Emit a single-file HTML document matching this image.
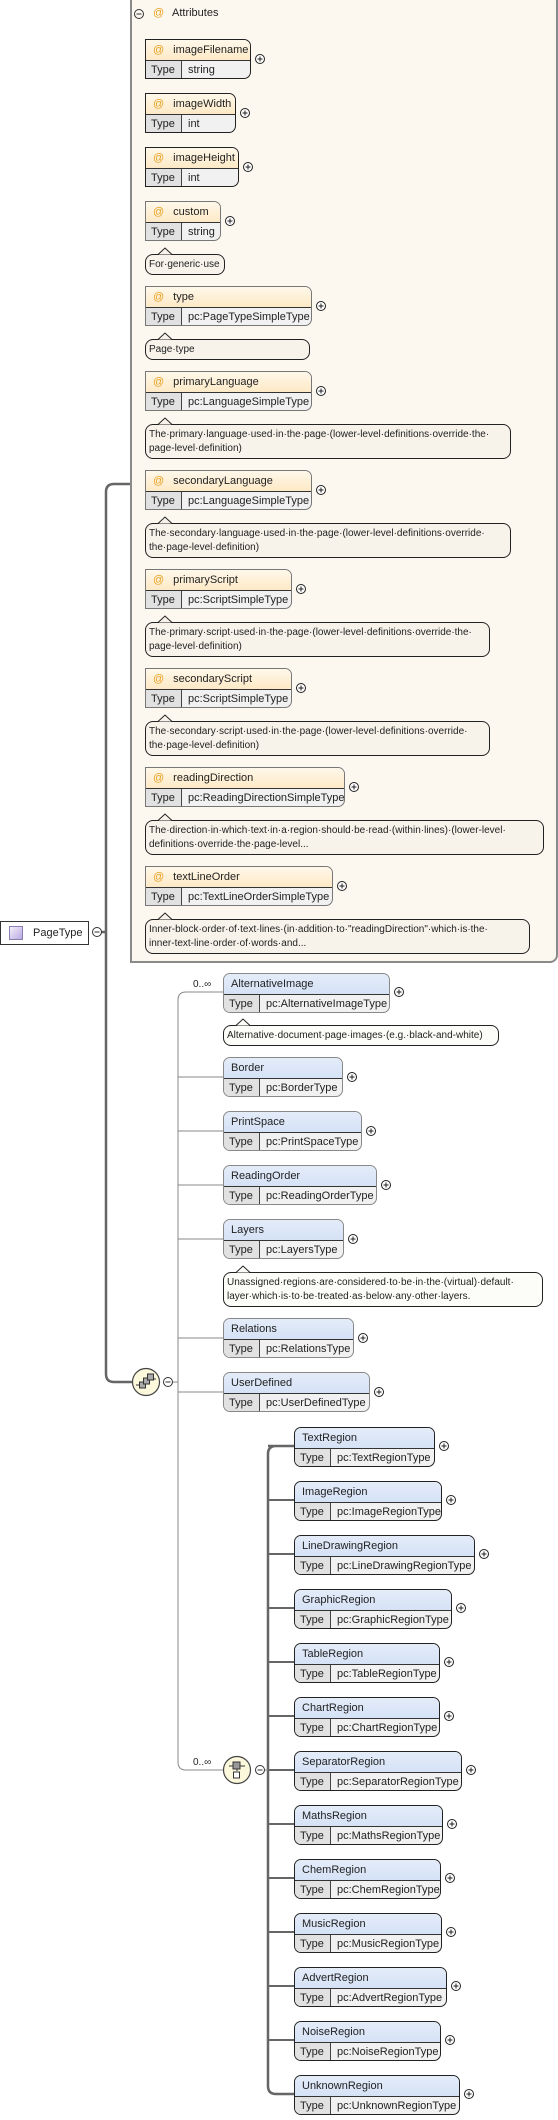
<!DOCTYPE html>
<html><head><meta charset="utf-8"><style>
*{margin:0;padding:0}
body{width:558px;height:2120px;position:relative;background:#fff;font-family:"Liberation Sans",Tahoma,sans-serif;font-size:11px;color:#222;overflow:hidden}
.panel{position:absolute;left:130px;top:-4px;width:424px;height:963px;border:2px solid #8a8a8a;border-radius:0 0 8px 0;background:#fdf8ef}
.b{position:absolute;height:40px;box-sizing:border-box;border:1px solid #777;border-radius:0 7px 7px 0;overflow:hidden;background:#f1f1f1}
.e{border-radius:7px;border-color:#888}
.k{border-color:#222}
.h{height:21px;box-sizing:border-box;border-bottom:1px solid #333;background:linear-gradient(#fff8ea,#fde9c6);line-height:20px;padding-left:7px;white-space:nowrap}
.e .h{background:linear-gradient(#e4ecf9,#d5e2f6)}
.h i{font-style:normal;color:#e8a020;margin-right:9px}
.r{height:18px;line-height:18px;white-space:nowrap}
.t{display:inline-block;width:36px;background:#e1e1e1;border-right:1px solid #444;padding-left:5px;box-sizing:border-box;margin-right:6px;height:18px}
.c{position:absolute;box-sizing:border-box;border:1px solid #222;border-radius:8px;background:#f7f3ea;font-size:10px;line-height:14px;padding:3px 3px 2px 3px;white-space:nowrap}
.w{background:#fcfcf8}
svg{position:absolute;left:0;top:0}
</style></head><body>
<svg width="558" height="2120" style="z-index:0">
<g fill="none" stroke="#666" stroke-width="2.5">
<path d="M130 484 H114 Q106 484 106 492 V1374 Q106 1382 114 1382 H132"/>
<path d="M100 932 H106"/>
<path d="M268 1774 V2086 Q268 2094 276 2094 H294 M276 1446 Q268 1446 268 1454 V1774 M268 1446 H294"/>
</g>
<g fill="none" stroke="#888" stroke-width="1">
<path d="M223 992 H186 Q178 992 178 1000 V1762 Q178 1770 186 1770 H223"/>
<path d="M172 1382 H178"/>
</g>
<g stroke="#666" stroke-width="2">
<path d="M268 1500H294M268 1554H294M268 1608H294M268 1662H294M268 1716H294M268 1770H294M268 1824H294M268 1878H294M268 1932H294M268 1986H294M268 2040H294"/>
</g>
<g stroke="#888" stroke-width="1">
<path d="M178 1077H223M178 1131H223M178 1185H223M178 1239H223M178 1338H223M178 1392H223M264 1770H268"/>
</g>
</svg>

<div class="panel"></div>

<!-- Attributes header -->
<svg width="558" height="40" style="z-index:1">
<circle cx="139" cy="14" r="4.5" fill="none" stroke="#333"/><path d="M136.5 14H141.5" stroke="#333"/>
<path d="M135 28.5H453" stroke="url(#g)" stroke-width="2"/>
<defs><linearGradient id="g"><stop offset="0" stop-color="#999"/><stop offset="1" stop-color="#fdf8ef"/></linearGradient></defs>
</svg>
<div style="position:absolute;left:153px;top:7px;color:#e8a020;font-size:11px">@</div>
<div style="position:absolute;left:172px;top:7px;font-size:11px">Attributes</div>

<!-- attribute boxes -->
<div class="b" style="left:145px;top:39px;width:106px;border-color:#222"><div class="h"><i>@</i>imageFilename</div><div class="r"><span class="t">Type</span>string</div></div>
<div class="b" style="left:145px;top:93px;width:91px;border-color:#222"><div class="h"><i>@</i>imageWidth</div><div class="r"><span class="t">Type</span>int</div></div>
<div class="b" style="left:145px;top:147px;width:94px;border-color:#222"><div class="h"><i>@</i>imageHeight</div><div class="r"><span class="t">Type</span>int</div></div>
<div class="b" style="left:145px;top:201px;width:76px"><div class="h"><i>@</i>custom</div><div class="r"><span class="t">Type</span>string</div></div>
<div class="c" style="left:145px;top:254px;width:80px;height:21px">For·generic·use</div>
<div class="b" style="left:145px;top:286px;width:167px"><div class="h"><i>@</i>type</div><div class="r"><span class="t">Type</span>pc:PageTypeSimpleType</div></div>
<div class="c" style="left:145px;top:339px;width:165px;height:21px">Page·type</div>
<div class="b" style="left:145px;top:371px;width:167px"><div class="h"><i>@</i>primaryLanguage</div><div class="r"><span class="t">Type</span>pc:LanguageSimpleType</div></div>
<div class="c" style="left:145px;top:424px;width:366px;height:35px">The·primary·language·used·in·the·page·(lower-level·definitions·override·the·<br>page-level·definition)</div>
<div class="b" style="left:145px;top:470px;width:167px"><div class="h"><i>@</i>secondaryLanguage</div><div class="r"><span class="t">Type</span>pc:LanguageSimpleType</div></div>
<div class="c" style="left:145px;top:523px;width:366px;height:35px">The·secondary·language·used·in·the·page·(lower-level·definitions·override·<br>the·page-level·definition)</div>
<div class="b" style="left:145px;top:569px;width:147px"><div class="h"><i>@</i>primaryScript</div><div class="r"><span class="t">Type</span>pc:ScriptSimpleType</div></div>
<div class="c" style="left:145px;top:622px;width:345px;height:35px">The·primary·script·used·in·the·page·(lower-level·definitions·override·the·<br>page-level·definition)</div>
<div class="b" style="left:145px;top:668px;width:147px"><div class="h"><i>@</i>secondaryScript</div><div class="r"><span class="t">Type</span>pc:ScriptSimpleType</div></div>
<div class="c" style="left:145px;top:721px;width:345px;height:35px">The·secondary·script·used·in·the·page·(lower-level·definitions·override·<br>the·page-level·definition)</div>
<div class="b" style="left:145px;top:767px;width:200px"><div class="h"><i>@</i>readingDirection</div><div class="r"><span class="t">Type</span>pc:ReadingDirectionSimpleType</div></div>
<div class="c" style="left:145px;top:820px;width:399px;height:35px">The·direction·in·which·text·in·a·region·should·be·read·(within·lines)·(lower-level·<br>definitions·override·the·page-level...</div>
<div class="b" style="left:145px;top:866px;width:188px"><div class="h"><i>@</i>textLineOrder</div><div class="r"><span class="t">Type</span>pc:TextLineOrderSimpleType</div></div>
<div class="c" style="left:145px;top:919px;width:385px;height:35px">Inner-block·order·of·text·lines·(in·addition·to·"readingDirection"·which·is·the·<br>inner-text-line·order·of·words·and...</div>

<!-- PageType -->
<div style="position:absolute;left:0;top:921px;width:89px;height:24px;box-sizing:border-box;border:1px solid #333;background:#fff;line-height:22px;padding-left:32px;font-size:11px">PageType</div>
<div style="position:absolute;left:9px;top:926px;width:12px;height:12px;border:1px solid #8a7fb0;background:linear-gradient(135deg,#f4f0fc,#b9a8e0)"></div>

<!-- sequence children -->
<div class="b e" style="left:223px;top:973px;width:167px"><div class="h">AlternativeImage</div><div class="r"><span class="t">Type</span>pc:AlternativeImageType</div></div>
<div class="c w" style="left:223px;top:1025px;width:276px;height:21px">Alternative·document·page·images·(e.g.·black-and-white)</div>
<div class="b e" style="left:223px;top:1057px;width:120px"><div class="h">Border</div><div class="r"><span class="t">Type</span>pc:BorderType</div></div>
<div class="b e" style="left:223px;top:1111px;width:139px"><div class="h">PrintSpace</div><div class="r"><span class="t">Type</span>pc:PrintSpaceType</div></div>
<div class="b e" style="left:223px;top:1165px;width:154px"><div class="h">ReadingOrder</div><div class="r"><span class="t">Type</span>pc:ReadingOrderType</div></div>
<div class="b e" style="left:223px;top:1219px;width:121px"><div class="h">Layers</div><div class="r"><span class="t">Type</span>pc:LayersType</div></div>
<div class="c w" style="left:223px;top:1272px;width:320px;height:35px">Unassigned·regions·are·considered·to·be·in·the·(virtual)·default·<br>layer·which·is·to·be·treated·as·below·any·other·layers.</div>
<div class="b e" style="left:223px;top:1318px;width:131px"><div class="h">Relations</div><div class="r"><span class="t">Type</span>pc:RelationsType</div></div>
<div class="b e" style="left:223px;top:1372px;width:147px"><div class="h">UserDefined</div><div class="r"><span class="t">Type</span>pc:UserDefinedType</div></div>

<div style="position:absolute;left:193px;top:979px;font-size:10px">0..∞</div>
<div style="position:absolute;left:193px;top:1757px;font-size:10px">0..∞</div>

<!-- regions -->
<div class="b e k" style="left:294px;top:1427px;width:141px"><div class="h">TextRegion</div><div class="r"><span class="t">Type</span>pc:TextRegionType</div></div>
<div class="b e k" style="left:294px;top:1481px;width:148px"><div class="h">ImageRegion</div><div class="r"><span class="t">Type</span>pc:ImageRegionType</div></div>
<div class="b e k" style="left:294px;top:1535px;width:181px"><div class="h">LineDrawingRegion</div><div class="r"><span class="t">Type</span>pc:LineDrawingRegionType</div></div>
<div class="b e k" style="left:294px;top:1589px;width:158px"><div class="h">GraphicRegion</div><div class="r"><span class="t">Type</span>pc:GraphicRegionType</div></div>
<div class="b e k" style="left:294px;top:1643px;width:146px"><div class="h">TableRegion</div><div class="r"><span class="t">Type</span>pc:TableRegionType</div></div>
<div class="b e k" style="left:294px;top:1697px;width:146px"><div class="h">ChartRegion</div><div class="r"><span class="t">Type</span>pc:ChartRegionType</div></div>
<div class="b e k" style="left:294px;top:1751px;width:168px"><div class="h">SeparatorRegion</div><div class="r"><span class="t">Type</span>pc:SeparatorRegionType</div></div>
<div class="b e k" style="left:294px;top:1805px;width:149px"><div class="h">MathsRegion</div><div class="r"><span class="t">Type</span>pc:MathsRegionType</div></div>
<div class="b e k" style="left:294px;top:1859px;width:147px"><div class="h">ChemRegion</div><div class="r"><span class="t">Type</span>pc:ChemRegionType</div></div>
<div class="b e k" style="left:294px;top:1913px;width:148px"><div class="h">MusicRegion</div><div class="r"><span class="t">Type</span>pc:MusicRegionType</div></div>
<div class="b e k" style="left:294px;top:1967px;width:153px"><div class="h">AdvertRegion</div><div class="r"><span class="t">Type</span>pc:AdvertRegionType</div></div>
<div class="b e k" style="left:294px;top:2021px;width:147px"><div class="h">NoiseRegion</div><div class="r"><span class="t">Type</span>pc:NoiseRegionType</div></div>
<div class="b e k" style="left:294px;top:2075px;width:166px"><div class="h">UnknownRegion</div><div class="r"><span class="t">Type</span>pc:UnknownRegionType</div></div>

<!-- overlay: notches, plus icons, compositor icons -->
<svg width="558" height="2120" style="z-index:5">
<g stroke="#222" stroke-width="1">
<path d="M158 254.5 L165 248 L172 254.5" fill="#f7f3ea"/>
<path d="M158 339.5 L165 333 L172 339.5" fill="#f7f3ea"/>
<path d="M158 424.5 L165 418 L172 424.5" fill="#f7f3ea"/>
<path d="M158 523.5 L165 517 L172 523.5" fill="#f7f3ea"/>
<path d="M158 622.5 L165 616 L172 622.5" fill="#f7f3ea"/>
<path d="M158 721.5 L165 715 L172 721.5" fill="#f7f3ea"/>
<path d="M158 820.5 L165 814 L172 820.5" fill="#f7f3ea"/>
<path d="M158 919.5 L165 913 L172 919.5" fill="#f7f3ea"/>
<path d="M236 1025.5 L243 1019 L250 1025.5" fill="#fcfcf8"/>
<path d="M236 1272.5 L243 1266 L250 1272.5" fill="#fcfcf8"/>
</g>
<g fill="#fff" stroke="#222" stroke-width="1">
<circle cx="260" cy="59" r="4.5"/><circle cx="245" cy="113" r="4.5"/><circle cx="248" cy="167" r="4.5"/><circle cx="230" cy="221" r="4.5"/>
<circle cx="321" cy="306" r="4.5"/><circle cx="321" cy="391" r="4.5"/><circle cx="321" cy="490" r="4.5"/><circle cx="301" cy="589" r="4.5"/>
<circle cx="301" cy="688" r="4.5"/><circle cx="354" cy="787" r="4.5"/><circle cx="342" cy="886" r="4.5"/>
<circle cx="399" cy="992" r="4.5"/><circle cx="352" cy="1077" r="4.5"/><circle cx="371" cy="1131" r="4.5"/><circle cx="386" cy="1185" r="4.5"/>
<circle cx="353" cy="1239" r="4.5"/><circle cx="363" cy="1338" r="4.5"/><circle cx="379" cy="1392" r="4.5"/>
<circle cx="444" cy="1446" r="4.5"/><circle cx="451" cy="1500" r="4.5"/><circle cx="484" cy="1554" r="4.5"/><circle cx="461" cy="1608" r="4.5"/>
<circle cx="449" cy="1662" r="4.5"/><circle cx="449" cy="1716" r="4.5"/><circle cx="471" cy="1770" r="4.5"/><circle cx="452" cy="1824" r="4.5"/>
<circle cx="450" cy="1878" r="4.5"/><circle cx="451" cy="1932" r="4.5"/><circle cx="456" cy="1986" r="4.5"/><circle cx="450" cy="2040" r="4.5"/><circle cx="469" cy="2094" r="4.5"/>
</g>
<path stroke="#222" stroke-width="1" d="M257.5 59h5M260 56.5v5M242.5 113h5M245 110.5v5M245.5 167h5M248 164.5v5M227.5 221h5M230 218.5v5M318.5 306h5M321 303.5v5M318.5 391h5M321 388.5v5M318.5 490h5M321 487.5v5M298.5 589h5M301 586.5v5M298.5 688h5M301 685.5v5M351.5 787h5M354 784.5v5M339.5 886h5M342 883.5v5M396.5 992h5M399 989.5v5M349.5 1077h5M352 1074.5v5M368.5 1131h5M371 1128.5v5M383.5 1185h5M386 1182.5v5M350.5 1239h5M353 1236.5v5M360.5 1338h5M363 1335.5v5M376.5 1392h5M379 1389.5v5M441.5 1446h5M444 1443.5v5M448.5 1500h5M451 1497.5v5M481.5 1554h5M484 1551.5v5M458.5 1608h5M461 1605.5v5M446.5 1662h5M449 1659.5v5M446.5 1716h5M449 1713.5v5M468.5 1770h5M471 1767.5v5M449.5 1824h5M452 1821.5v5M447.5 1878h5M450 1875.5v5M448.5 1932h5M451 1929.5v5M453.5 1986h5M456 1983.5v5M447.5 2040h5M450 2037.5v5M466.5 2094h5M469 2091.5v5"/>
<!-- minus icons -->
<g fill="#fff" stroke="#333"><circle cx="97" cy="932" r="4.5"/><circle cx="168" cy="1382" r="4.5"/><circle cx="260" cy="1770" r="4.5"/></g>
<path stroke="#333" d="M94.5 932h5M165.5 1382h5M257.5 1770h5"/>
<!-- sequence compositor -->
<circle cx="146" cy="1382" r="13.5" fill="#fbf8dc" stroke="#444" stroke-width="1.2"/>
<g stroke="#333" fill="#aaa"><path d="M136 1385h4M152 1379h4" fill="none"/><rect x="139.5" y="1382" width="6" height="6"/><rect x="143.5" y="1378" width="6" height="6"/><rect x="147.5" y="1374" width="6" height="6"/></g>
<!-- choice compositor -->
<circle cx="237" cy="1770" r="13.5" fill="#fbf8dc" stroke="#444" stroke-width="1.2"/>
<g stroke="#333"><path d="M229 1766h16M237 1766v5" fill="none"/><rect x="233" y="1762" width="7" height="7" fill="#999"/><rect x="233.5" y="1772" width="6" height="6" fill="#fff"/></g>
</svg>
</body></html>
